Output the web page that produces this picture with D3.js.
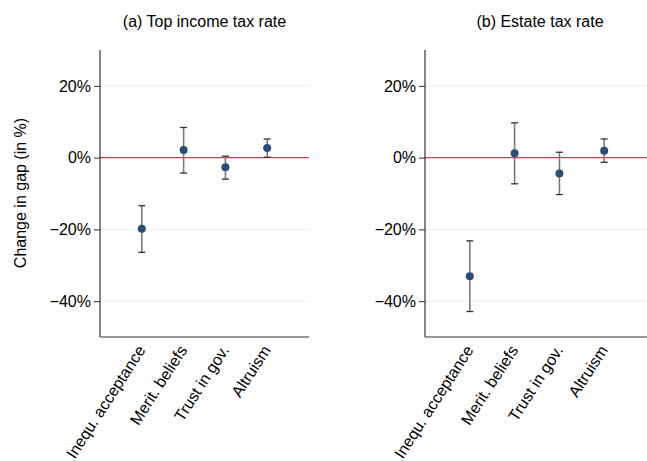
<!DOCTYPE html>
<html>
<head>
<meta charset="utf-8">
<script src="https://cdn.jsdelivr.net/npm/d3@7"></script>
<style>
  html, body { margin: 0; padding: 0; background: #fff; }
  text { font-family: "Liberation Sans", Arial, sans-serif; fill: #000; }
</style>
</head>
<body>
<svg id="chart" width="647" height="461"></svg>
<script>
// Factor categories shown on each panel's x axis
const categories = ["Inequ. acceptance", "Merit. beliefs", "Trust in gov.", "Altruism"];

// Panel (a): top income tax rate — point estimate and 95% CI bounds (%)
const incomeEst = [-19.8, 2.1, -2.7, 2.7];
const incomeLow = [-26.4, -4.3, -6.0, 0.1];
const incomeHigh = [-13.4, 8.4, 0.4, 5.2];

// Panel (b): estate tax rate — point estimate and 95% CI bounds (%)
const estateEst = [-33.1, 1.2, -4.4, 1.9];
const estateLow = [-42.9, -7.3, -10.3, -1.3];
const estateHigh = [-23.2, 9.7, 1.5, 5.2];

// Axis settings
const yTicks = [20, 0, -20, -40];
const yDomain = [-50, 30];
const panelTitles = ["(a) Top income tax rate", "(b) Estate tax rate"];
const yAxisTitle = "Change in gap (in %)";

const svg = d3.select("#chart");

const panels = [
  { title: panelTitles[0], est: incomeEst, low: incomeLow, high: incomeHigh, x0: 100, x1: 309, showYTitle: true },
  { title: panelTitles[1], est: estateEst, low: estateLow, high: estateHigh, x0: 425, x1: 649, showYTitle: false }
];

const plotTop = 50, plotBottom = 337;
const y = d3.scaleLinear().domain(yDomain).range([plotBottom, plotTop]);
const FONT = '"Liberation Sans", Arial, sans-serif';

panels.forEach((p, pi) => {
  const g = svg.append("g");
  const x = d3.scalePoint().domain(categories).range([p.x0, p.x1]).padding(1);

  // Title
  g.append("text")
    .attr("x", (p.x0 + p.x1) / 2 + (pi === 1 ? 3 : 0))
    .attr("y", 27)
    .attr("text-anchor", "middle")
    .style("font-size", "16px")
    .text(p.title);

  // Horizontal gridlines
  g.selectAll("line.grid").data(yTicks.filter(t => t !== 0)).join("line")
    .attr("class", "grid")
    .attr("x1", p.x0).attr("x2", p.x1)
    .attr("y1", d => y(d)).attr("y2", d => y(d))
    .attr("stroke", "#eaf1f2").attr("stroke-width", 1);

  // Zero reference line
  g.append("line")
    .attr("x1", p.x0).attr("x2", p.x1)
    .attr("y1", y(0)).attr("y2", y(0))
    .attr("stroke", "#c8404f").attr("stroke-width", 1.4);

  // Y axis
  const yAxis = d3.axisLeft(y).tickValues(yTicks).tickSize(6).tickPadding(3)
    .tickFormat(d => (d < 0 ? "\u2212" + Math.abs(d) : d) + "%");
  const ya = g.append("g").attr("transform", `translate(${p.x0},0)`).call(yAxis);
  ya.select(".domain").remove();
  ya.selectAll(".tick line").attr("stroke", "#333");
  ya.selectAll(".tick text").style("font-size", "16px")
    .style("font-family", FONT).attr("fill", "#000");
  g.append("line").attr("x1", p.x0).attr("x2", p.x0).attr("y1", plotTop).attr("y2", plotBottom)
    .attr("stroke", "#333").attr("stroke-width", 1.2);

  // X axis (baseline plus rotated labels)
  g.append("line").attr("x1", p.x0).attr("x2", p.x1).attr("y1", plotBottom).attr("y2", plotBottom)
    .attr("stroke", "#333").attr("stroke-width", 1.2);
  const xAxis = d3.axisBottom(x).tickSize(0).tickPadding(0);
  const xa = g.append("g").attr("transform", `translate(0,${plotBottom})`).call(xAxis);
  xa.select(".domain").remove();
  xa.selectAll(".tick text")
    .style("font-size", "16px")
    .style("font-family", FONT)
    .attr("fill", "#000")
    .attr("text-anchor", "end")
    .attr("dy", "0.35em")
    .attr("transform", "translate(-1,10) rotate(-57)");

  // Confidence intervals
  const idx = d3.range(categories.length);
  g.selectAll("line.ci").data(idx).join("line")
    .attr("class", "ci")
    .attr("x1", i => x(categories[i])).attr("x2", i => x(categories[i]))
    .attr("y1", i => y(p.low[i])).attr("y2", i => y(p.high[i]))
    .attr("stroke", "#7a7a7a").attr("stroke-width", 1.6);
  ["low", "high"].forEach(k => {
    g.selectAll("line.cap-" + k).data(idx).join("line")
      .attr("class", "cap-" + k)
      .attr("x1", i => x(categories[i]) - 3.5).attr("x2", i => x(categories[i]) + 3.5)
      .attr("y1", i => y(p[k][i])).attr("y2", i => y(p[k][i]))
      .attr("stroke", "#333").attr("stroke-width", 1.3);
  });

  // Point estimates
  g.selectAll("circle.pt").data(idx).join("circle")
    .attr("class", "pt")
    .attr("cx", i => x(categories[i])).attr("cy", i => y(p.est[i]))
    .attr("r", 4)
    .attr("fill", "#2a4d74");

  if (p.showYTitle) {
    svg.append("text")
      .attr("transform", `translate(26,193) rotate(-90)`)
      .attr("text-anchor", "middle")
      .style("font-size", "16px")
      .text(yAxisTitle);
  }
});
</script>
</body>
</html>
